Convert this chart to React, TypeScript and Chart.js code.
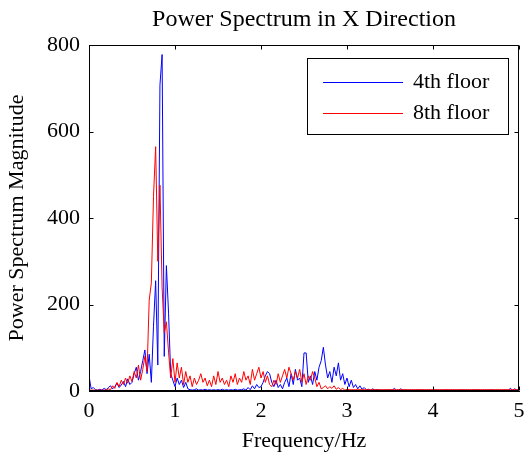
import React, { useEffect, useRef } from "react";
import { Chart, registerables } from "chart.js";

Chart.register(...registerables);

const FREQ_STEP = 0.025;

const floor4 = [
  35, 5, 8, 3, 2, 4, 2, 6, 3, 8,
  12, 5, 10, 18, 8, 14, 22, 10, 28, 15,
  20, 40, 55, 25, 45, 70, 95, 40, 85, 20,
  150, 255, 60, 707, 778, 80, 290, 180, 40, 25,
  10, 30, 15, 25, 8, 20, 5, 3, 2, 3,
  5, 2, 3, 2, 4, 2, 3, 2, 3, 2,
  3, 2, 4, 2, 3, 2, 3, 2, 4, 2,
  3, 3, 5, 2, 8, 3, 12, 5, 15, 8,
  10, 20, 35, 45, 40, 20, 10, 25, 8, 15,
  5, 20, 30, 10, 40, 15, 50, 25, 30, 10,
  88, 88, 20, 35, 15, 45, 25, 55, 70, 101,
  60, 30, 45, 20, 55, 35, 65, 25, 40, 15,
  30, 10, 25, 8, 15, 5, 12, 4, 8, 3,
  4, 2, 5, 2, 3, 2, 2, 2, 2, 2,
  2, 2, 6, 2, 2, 5, 2, 2, 2, 2,
  2, 2, 2, 2, 2, 2, 2, 2, 2, 2,
  2, 2, 2, 2, 2, 2, 2, 2, 2, 2,
  2, 2, 2, 2, 2, 2, 2, 2, 2, 2,
  2, 2, 2, 2, 2, 2, 2, 2, 2, 2,
  2, 2, 2, 2, 2, 2, 6, 2, 5, 2,
  2,
];

const floor8 = [
  2, 2, 2, 2, 2, 2, 2, 2, 2, 5,
  3, 12, 6, 20, 10, 25, 15, 30, 18, 35,
  22, 45, 30, 60, 25, 50, 80, 45, 210, 250,
  450, 565, 300, 476, 240, 135, 160, 90, 30, 75,
  20, 65, 30, 55, 15, 45, 20, 35, 10, 30,
  15, 25, 40, 20, 30, 12, 25, 10, 35, 15,
  45, 20, 30, 15, 25, 10, 35, 20, 40, 15,
  30, 20, 45, 25, 35, 15, 50, 25, 40, 55,
  30, 45, 20, 35, 15, 10, 25, 15, 40, 20,
  35, 50, 30, 55, 40, 25, 45, 30, 50, 20,
  40, 15, 35, 25, 45, 30, 10, 20, 5, 8,
  12, 5, 10, 6, 12, 4, 8, 3, 6, 2,
  4, 3, 3, 3, 3, 3, 3, 3, 3, 3,
  3, 3, 3, 3, 3, 3, 3, 3, 3, 3,
  3, 3, 3, 3, 3, 3, 3, 3, 3, 3,
  3, 3, 3, 3, 3, 3, 3, 3, 3, 3,
  3, 3, 3, 3, 3, 3, 3, 3, 3, 3,
  3, 3, 3, 3, 3, 3, 3, 3, 3, 3,
  3, 3, 3, 3, 3, 3, 3, 3, 3, 3,
  3, 3, 3, 3, 3, 3, 3, 3, 3, 3,
  3,
];

const xTicks = [0, 1, 2, 3, 4, 5];
const yTicks = [0, 200, 400, 600, 800];
const seriesLabels = ["4th floor", "8th floor"];
const seriesColors = ["#0000ff", "#ff0000"];
const chartTitle = "Power Spectrum in X Direction";
const xTitle = "Frequency/Hz";
const yTitle = "Power Spectrum Magnitude";

const FONT = "'Liberation Serif', 'Times New Roman', serif";

const toPoints = (vals: number[]) =>
  vals.map((v, i) => ({ x: +(i * FREQ_STEP).toFixed(3), y: v }));

const decorPlugin = {
  id: "decor",
  afterDraw(chart: any) {
    const ctx = chart.ctx;
    const { left, right, top, bottom } = chart.chartArea;
    const xs = chart.scales.x;
    const ys = chart.scales.y;
    ctx.save();
    ctx.strokeStyle = "#000";
    ctx.lineWidth = 1;
    const L = Math.round(left) + 0.5;
    const R = Math.round(right) - 0.5;
    const T = Math.round(top) + 0.5;
    const B = Math.round(bottom) - 0.5;
    ctx.beginPath();
    ctx.rect(L, T, R - L, B - T);
    ctx.stroke();
    // inward ticks
    ctx.beginPath();
    xTicks.forEach((v) => {
      const px = Math.round(xs.getPixelForValue(v)) + 0.5;
      ctx.moveTo(px, B);
      ctx.lineTo(px, B - 4);
      ctx.moveTo(px, T);
      ctx.lineTo(px, T + 4);
    });
    yTicks.forEach((v) => {
      const py = Math.round(ys.getPixelForValue(v)) + 0.5;
      ctx.moveTo(L, py);
      ctx.lineTo(L + 4, py);
      ctx.moveTo(R, py);
      ctx.lineTo(R - 4, py);
    });
    ctx.stroke();

    ctx.fillStyle = "#000";
    ctx.textAlign = "center";
    ctx.textBaseline = "middle";
    ctx.font = `24px ${FONT}`;
    ctx.fillText(chartTitle, (left + right) / 2, 20);
    ctx.font = `22px ${FONT}`;
    ctx.fillText(xTitle, (left + right) / 2, 441);
    ctx.save();
    ctx.translate(17, (top + bottom) / 2);
    ctx.rotate(-Math.PI / 2);
    ctx.fillText(yTitle, 0, 0);
    ctx.restore();

    // legend
    const lx = 307.5, ly = 58.5, lw = 201, lh = 76;
    ctx.fillStyle = "#fff";
    ctx.fillRect(lx, ly, lw, lh);
    ctx.strokeStyle = "#000";
    ctx.strokeRect(lx, ly, lw, lh);
    const rows = [82, 113];
    seriesLabels.forEach((lab, i) => {
      ctx.strokeStyle = seriesColors[i];
      ctx.beginPath();
      ctx.moveTo(323, rows[i] + 0.5);
      ctx.lineTo(403, rows[i] + 0.5);
      ctx.stroke();
      ctx.fillStyle = "#000";
      ctx.textAlign = "left";
      ctx.font = `22px ${FONT}`;
      ctx.fillText(lab, 413, rows[i]);
    });
    ctx.restore();
  },
};

export default function App() {
  const ref = useRef<HTMLCanvasElement | null>(null);
  useEffect(() => {
    if (!ref.current) return;
    const chart = new Chart(ref.current, {
      type: "line",
      data: {
        datasets: [
          {
            label: seriesLabels[0],
            data: toPoints(floor4),
            borderColor: seriesColors[0],
            backgroundColor: seriesColors[0],
            borderWidth: 1,
            pointRadius: 0,
            tension: 0,
            order: 1,
          },
          {
            label: seriesLabels[1],
            data: toPoints(floor8),
            borderColor: seriesColors[1],
            backgroundColor: seriesColors[1],
            borderWidth: 1,
            pointRadius: 0,
            tension: 0,
            order: 0,
          },
        ],
      },
      options: {
        responsive: false,
        animation: false,
        events: [],
        layout: { padding: { left: 0, right: 5, top: 45, bottom: 0 } },
        plugins: {
          legend: { display: false },
          title: { display: false },
          tooltip: { enabled: false },
        },
        scales: {
          x: {
            type: "linear",
            min: 0,
            max: 5,
            ticks: {
              stepSize: 1,
              color: "#000",
              font: { family: FONT, size: 22 },
              padding: 7,
              maxRotation: 0,
            },
            grid: { display: false, drawTicks: false },
            border: { display: true, color: "#000" },
            afterFit: (s: any) => {
              s.height = 66;
              s.paddingLeft = 0;
              s.paddingRight = 0;
            },
          },
          y: {
            type: "linear",
            min: 0,
            max: 800,
            ticks: {
              stepSize: 200,
              color: "#000",
              font: { family: FONT, size: 22 },
              padding: 9,
            },
            grid: { display: false, drawTicks: false },
            border: { display: true, color: "#000" },
            afterFit: (s: any) => {
              s.width = 89;
              s.paddingTop = 0;
              s.paddingBottom = 0;
            },
          },
        },
      },
      plugins: [decorPlugin],
    });
    return () => chart.destroy();
  }, []);
  return (
    <div style={{ position: "fixed", left: 0, top: 0, width: 524, height: 457, background: "#fff" }}>
      <canvas ref={ref} width={524} height={457} style={{ display: "block" }} />
    </div>
  );
}
